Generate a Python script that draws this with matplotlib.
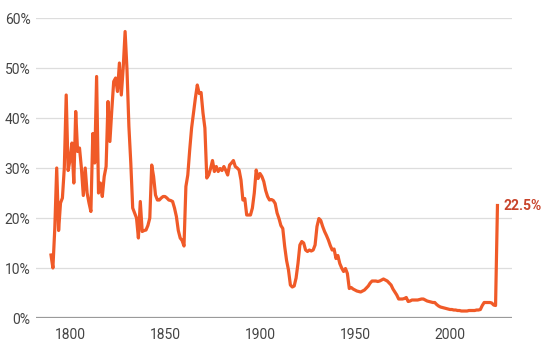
import matplotlib.pyplot as plt
import numpy as np

years = list(range(1790, 2026))

rates = [
    12.6, 10.0, 18.0, 30.0, 17.5, 23.0, 24.0, 30.0, 44.6, 29.5,  # 1790s
    31.6, 35.0, 27.0, 41.3, 33.3, 34.0, 30.0, 24.5, 30.0, 25.0,  # 1800s
    23.0, 21.3, 36.9, 31.0, 48.3, 25.0, 27.0, 24.3, 28.3, 30.3,  # 1810s
    43.3, 35.3, 41.6, 47.3, 48.0, 45.3, 51.0, 44.6, 50.0, 57.3,  # 1820s
    49.6, 38.3, 31.0, 22.0, 21.0, 20.0, 16.0, 23.3, 17.3, 17.5,  # 1830s
    17.6, 18.5, 20.0, 30.6, 28.3, 24.6, 23.6, 23.6, 24.0, 24.3,  # 1840s
    24.3, 24.0, 23.6, 23.5, 23.3, 22.0, 20.3, 17.5, 16.0, 15.5,  # 1850s
    14.4, 26.3, 28.6, 33.6, 38.0, 41.0, 44.0, 46.6, 44.9, 45.1,  # 1860s
    41.0, 38.0, 28.0, 28.6, 29.9, 31.5, 29.3, 30.3, 29.3, 29.9,  # 1870s
    29.5, 30.3, 29.5, 28.6, 30.6, 31.0, 31.5, 30.3, 30.0, 29.6,  # 1880s
    27.6, 23.6, 23.9, 20.6, 20.6, 20.6, 22.0, 25.0, 29.6, 27.9,  # 1890s
    28.9, 28.3, 27.3, 25.5, 24.3, 23.6, 23.7, 23.5, 22.9, 21.0,  # 1900s
    19.9, 18.5, 17.9, 14.3, 11.5, 9.6, 6.6, 6.2, 6.4, 8.0,       # 1910s
    10.9, 14.6, 15.3, 15.0, 13.6, 13.3, 13.6, 13.4, 13.6, 14.6,  # 1920s
    18.3, 19.9, 19.5, 18.3, 17.3, 16.5, 15.6, 14.5, 13.6, 13.8,  # 1930s
    11.9, 12.5, 10.9, 10.0, 9.3, 9.9, 8.9, 5.9, 6.1, 5.8,        # 1940s
    5.6, 5.4, 5.3, 5.2, 5.4, 5.6, 6.0, 6.4, 7.0, 7.4,            # 1950s
    7.4, 7.4, 7.3, 7.4, 7.6, 7.8, 7.6, 7.4, 7.0, 6.6,            # 1960s
    5.8, 5.2, 4.6, 3.8, 3.8, 3.8, 3.9, 4.1, 3.3, 3.4,            # 1970s
    3.6, 3.6, 3.6, 3.6, 3.7, 3.8, 3.8, 3.6, 3.4, 3.3,            # 1980s
    3.2, 3.1, 3.1, 2.7, 2.4, 2.2, 2.1, 2.0, 1.9, 1.8,            # 1990s
    1.7, 1.7, 1.6, 1.6, 1.5, 1.5, 1.4, 1.4, 1.4, 1.4,            # 2000s
    1.5, 1.5, 1.5, 1.5, 1.6, 1.6, 1.7, 2.5, 3.1, 3.1,            # 2010s
    3.1, 3.1, 3.0, 2.6, 2.5, 22.5,                               # 2020s
]

y_ticks = [0, 10, 20, 30, 40, 50, 60]
x_ticks = [1800, 1850, 1900, 1950, 2000]

plt.rcParams["font.family"] = ["Roboto", "DejaVu Sans"]

fig = plt.figure(figsize=(5.59, 3.49), dpi=100)
ax = fig.add_axes([0.0644, 0.0888, 0.851, 0.8596])

line_col = "#f05a28"
ax.plot(years, rates, color=line_col, linewidth=2.3, solid_joinstyle="round", zorder=3)

ax.set_xlim(1782.1, 2032.5)
ax.set_ylim(0, 60)

ax.set_yticks(y_ticks)
ax.set_yticklabels([f"{t}%" for t in y_ticks])
ax.set_xticks(x_ticks)

for t in y_ticks[1:]:
    ax.axhline(t, color="#dddddd", linewidth=0.9, zorder=1)
ax.axhline(0, color="#9a9a9a", linewidth=1.6, zorder=2)

for s in ax.spines.values():
    s.set_visible(False)
ax.tick_params(axis="both", length=0, labelsize=10, labelcolor="#444444")
ax.tick_params(axis="y", pad=4)
ax.tick_params(axis="x", pad=7)

ax.annotate(f"{rates[-1]}%", xy=(years[-1], rates[-1]), xytext=(4, 0),
            textcoords="offset points", ha="left", va="center",
            fontsize=10, fontweight="bold", color="#c8432a", annotation_clip=False)

fig.savefig("out.png", dpi=100)
